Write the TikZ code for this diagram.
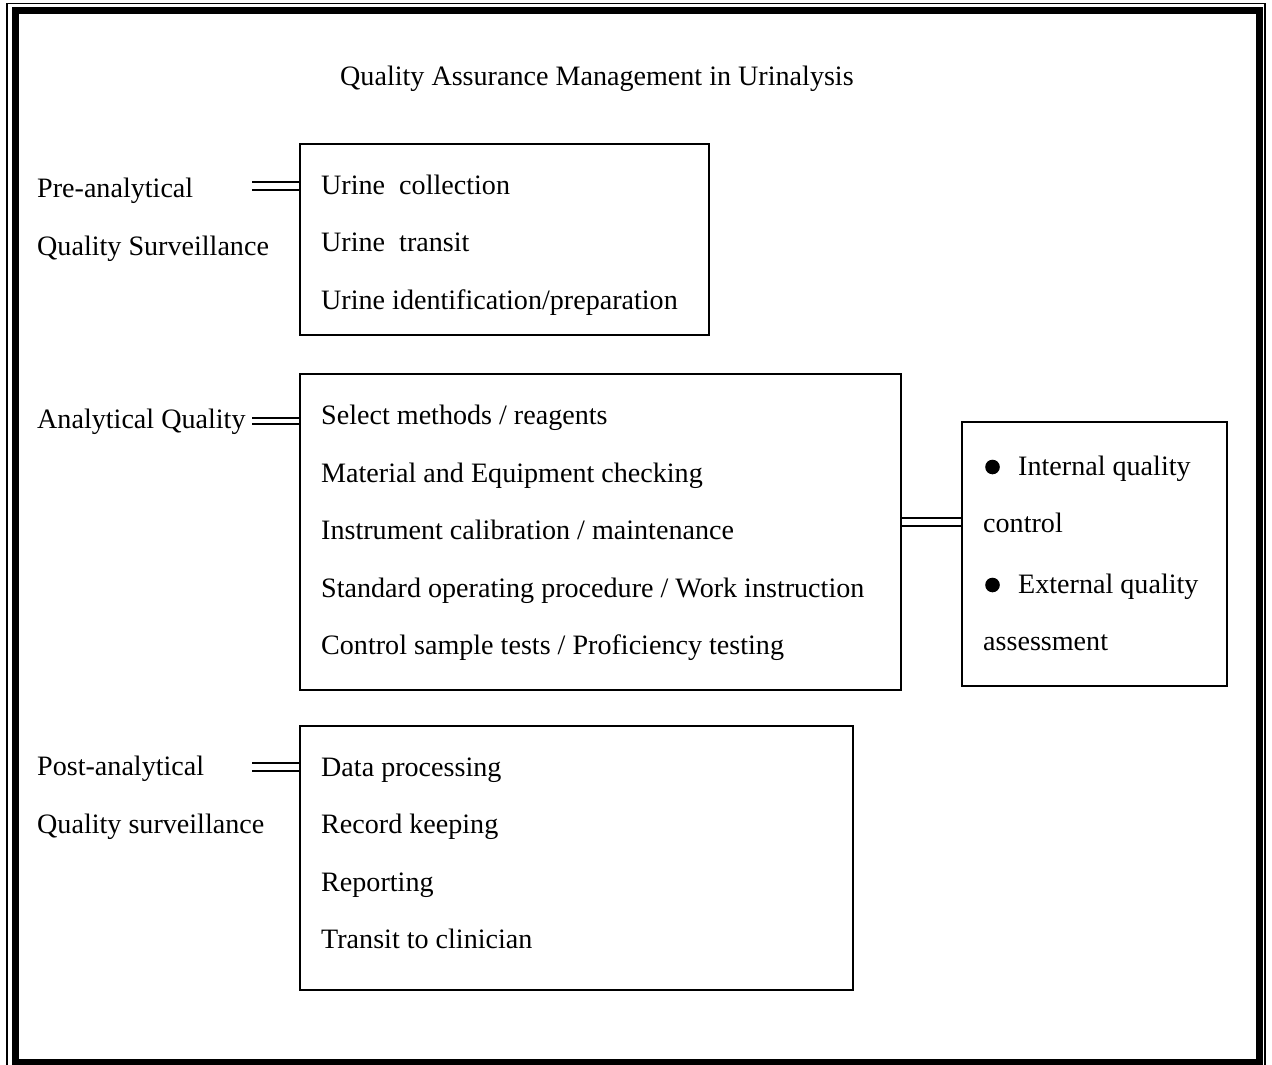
\documentclass[tikz,border=0pt]{standalone}
\usepackage{fontspec}
\setmainfont{Liberation Serif}
\begin{document}
\begin{tikzpicture}[x=1pt,y=-1pt,
  txt/.style={anchor=base west,inner sep=0pt,font=\fontsize{28.1}{32}\selectfont},
  boxx/.style={draw,line width=2pt},
  dbl/.style={line width=2.2pt}]
\useasboundingbox (0,0) rectangle (1272,1065);
% frame
\draw[line width=1.2pt] (7,3.5) rectangle (1265,1070);
\draw[line width=7pt] (15,11) rectangle (1259,1062);
% title
\node[txt] (title) at (340,85) {Quality Assurance Management in Urinalysis};
% left labels
\node[txt] (pre1) at (37,197) {Pre-analytical};
\node[txt] (pre2) at (37,255) {Quality Surveillance};
\node[txt] (ana) at (37,428) {Analytical Quality};
\node[txt] (post1) at (37,775) {Post-analytical};
\node[txt] (post2) at (37,833) {Quality surveillance};
% boxes
\draw[boxx] (300,144) rectangle (709,335);
\coordinate (b1) at (300,186);
\draw[boxx] (300,374) rectangle (901,690);
\coordinate (b2) at (300,421);
\coordinate (b2r) at (901,522);
\draw[boxx] (962,422) rectangle (1227,686);
\coordinate (b3) at (962,522);
\draw[boxx] (300,726) rectangle (853,990);
\coordinate (b4) at (300,767);
% box texts
\node[txt] (u1) at (321,194) {Urine\ \ collection};
\node[txt] (u2) at (321,251.5) {Urine\ \ transit};
\node[txt] (u3) at (321,309) {Urine identification/preparation};
\node[txt] (a1) at (321,424.5) {Select methods / reagents};
\node[txt] (a2) at (321,482) {Material and Equipment checking};
\node[txt] (a3) at (321,539.5) {Instrument calibration / maintenance};
\node[txt] (a4) at (321,597) {Standard operating procedure / Work instruction};
\node[txt] (a5) at (321,654.5) {Control sample tests / Proficiency testing};
\node[txt] (q1) at (1018,475) {Internal quality};
\node[txt] (q2) at (983,532) {control};
\node[txt] (q3) at (1018,593) {External quality};
\node[txt] (q4) at (983,650) {assessment};
\fill (992.5,467) circle (7.3);
\fill (992.5,585) circle (7.3);
\node[txt] (p1) at (321,776) {Data processing};
\node[txt] (p2) at (321,833.5) {Record keeping};
\node[txt] (p3) at (321,891) {Reporting};
\node[txt] (p4) at (321,948.5) {Transit to clinician};
% double connectors
\draw[dbl] ([shift={(-48,-4)}]b1) -- ([shift={(0,-4)}]b1);
\draw[dbl] ([shift={(-48,4)}]b1) -- ([shift={(0,4)}]b1);
\draw[dbl] ([shift={(-48,-3)}]b2) -- ([shift={(0,-3)}]b2);
\draw[dbl] ([shift={(-48,3)}]b2) -- ([shift={(0,3)}]b2);
\draw[dbl] ([shift={(-48,-4)}]b4) -- ([shift={(0,-4)}]b4);
\draw[dbl] ([shift={(-48,4)}]b4) -- ([shift={(0,4)}]b4);
\draw[dbl] ([shift={(0,-4)}]b2r) -- ([shift={(0,-4)}]b3);
\draw[dbl] ([shift={(0,4)}]b2r) -- ([shift={(0,4)}]b3);
\end{tikzpicture}
\end{document}
